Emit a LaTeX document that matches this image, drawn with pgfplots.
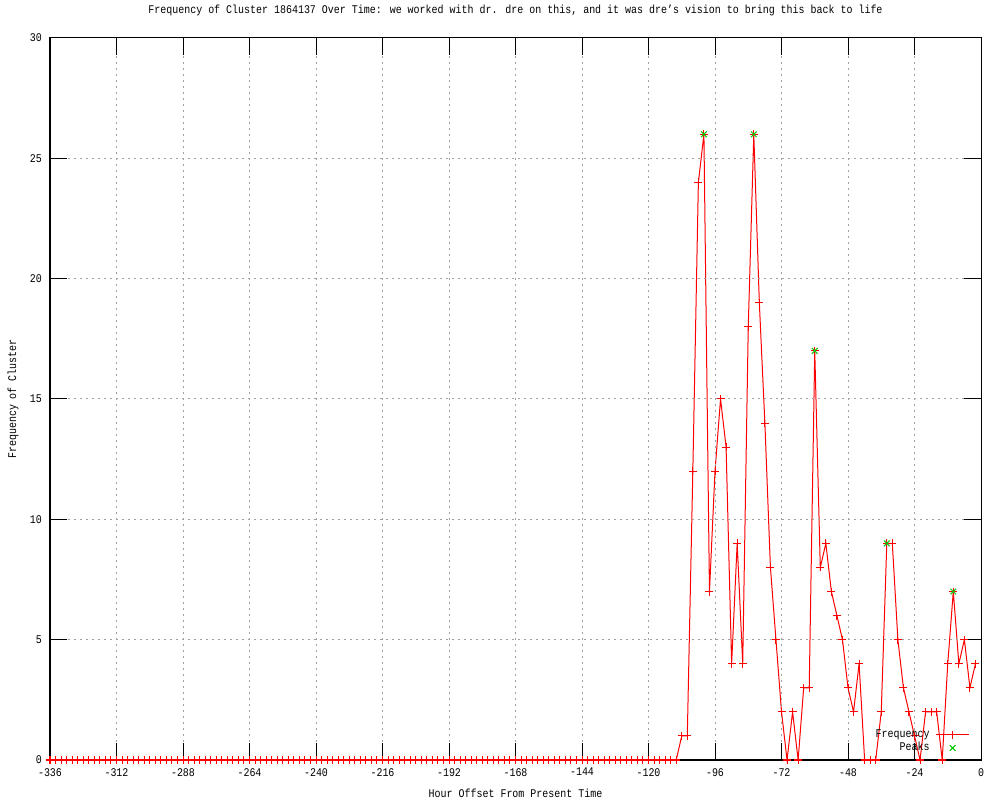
\documentclass[border=0pt]{standalone}
\usepackage{pgfplots}
\usepackage{pgfplotstable}
\usepackage{fontspec}
\setmainfont[FakeStretch=0.85]{Liberation Mono}
\pgfplotsset{compat=1.18}
\definecolor{gpred}{RGB}{255,0,0}
\definecolor{gpgreen}{RGB}{0,200,0}
\definecolor{gpgrid}{RGB}{160,160,160}
\pgfplotstableread[row sep=\\]{h f\\
-336 0\\ -334 0\\ -332 0\\ -330 0\\ -328 0\\ -326 0\\ -324 0\\ -322 0\\ -320 0\\ -318 0\\ -316 0\\ -314 0\\ -312 0\\ -310 0\\ -308 0\\ -306 0\\ -304 0\\ -302 0\\ -300 0\\ -298 0\\ -296 0\\ -294 0\\ -292 0\\ -290 0\\ -288 0\\ -286 0\\ -284 0\\ -282 0\\ -280 0\\ -278 0\\ -276 0\\ -274 0\\ -272 0\\ -270 0\\ -268 0\\ -266 0\\ -264 0\\ -262 0\\ -260 0\\ -258 0\\ -256 0\\ -254 0\\ -252 0\\ -250 0\\ -248 0\\ -246 0\\ -244 0\\ -242 0\\ -240 0\\ -238 0\\ -236 0\\ -234 0\\ -232 0\\ -230 0\\ -228 0\\ -226 0\\ -224 0\\ -222 0\\ -220 0\\ -218 0\\ -216 0\\ -214 0\\ -212 0\\ -210 0\\ -208 0\\ -206 0\\ -204 0\\ -202 0\\ -200 0\\ -198 0\\ -196 0\\ -194 0\\ -192 0\\ -190 0\\ -188 0\\ -186 0\\ -184 0\\ -182 0\\ -180 0\\ -178 0\\ -176 0\\ -174 0\\ -172 0\\ -170 0\\ -168 0\\ -166 0\\ -164 0\\ -162 0\\ -160 0\\ -158 0\\ -156 0\\ -154 0\\ -152 0\\ -150 0\\ -148 0\\ -146 0\\ -144 0\\ -142 0\\ -140 0\\ -138 0\\ -136 0\\ -134 0\\ -132 0\\ -130 0\\ -128 0\\ -126 0\\ -124 0\\ -122 0\\ -120 0\\ -118 0\\ -116 0\\ -114 0\\ -112 0\\ -110 0\\
-108 1\\ -106 1\\ -104 12\\ -102 24\\ -100 26\\ -98 7\\ -96 12\\ -94 15\\ -92 13\\ -90 4\\ -88 9\\ -86 4\\ -84 18\\ -82 26\\ -80 19\\ -78 14\\ -76 8\\ -74 5\\ -72 2\\ -70 0\\ -68 2\\ -66 0\\ -64 3\\ -62 3\\ -60 17\\ -58 8\\ -56 9\\ -54 7\\ -52 6\\ -50 5\\ -48 3\\ -46 2\\ -44 4\\ -42 0\\ -40 0\\ -38 0\\ -36 2\\ -34 9\\ -32 9\\ -30 5\\ -28 3\\ -26 2\\ -24 1\\ -22 0\\ -20 2\\ -18 2\\ -16 2\\ -14 0\\ -12 4\\ -10 7\\ -8 4\\ -6 5\\ -4 3\\ -2 4\\
}\freqtable
\pgfplotstableread[row sep=\\]{h f\\
-100 26\\ -82 26\\ -60 17\\ -34 9\\ -10 7\\
}\peaktable
\begin{document}
\fontsize{8.8}{10}\selectfont
\begin{tikzpicture}[x=1pt,y=1pt]
\begin{axis}[
  at={(37.5pt,30pt)}, anchor=south west,
  scale only axis, width=698.25pt, height=541.5pt,
  xmin=-336, xmax=0, ymin=0, ymax=30,
  xtick={-336,-312,...,0}, ytick={0,5,...,30},
  minor tick num=0,
  tick align=inside, major tick length=12.5pt,
  every tick/.style={black, line width=0.75pt},
  axis line style={black, line width=0.75pt},
  grid=major,
  major grid style={gpgrid, line width=0.75pt, dash pattern=on 1.5pt off 3pt},
  axis on top,
  clip=false,
  /pgf/number format/assume math mode=true,
  ticklabel style={font=\fontsize{8.8}{10}\selectfont},
  xticklabel style={yshift=-3pt},
  yticklabel style={xshift=-3pt},
  title={Frequency of Cluster 1864137 Over Time: we worked with dr. dre on this, and it was dre’s vision to bring this back to life},
  title style={at={(axis description cs:0.5,1.0277)}, anchor=center, font=\fontsize{8.8}{10}\selectfont},
  xlabel={Hour Offset From Present Time},
  xlabel style={at={(axis description cs:0.5,-0.0457)}, anchor=center, font=\fontsize{8.8}{10}\selectfont},
  ylabel={Frequency of Cluster},
  ylabel style={at={(axis description cs:-0.0397,0.5)}, anchor=center, font=\fontsize{8.8}{10}\selectfont},
  legend plot pos=right,
  legend cell align=right,
  legend style={draw=none, fill=none, inner sep=0pt, at={(axis description cs:0.988,0.007)}, anchor=south east,
    row sep=0pt, column sep=4pt, font=\fontsize{8.8}{9.75}\selectfont,
    nodes={inner sep=0.5pt, text height=6.5pt, text depth=2.5pt}},
]
\addplot[gpred, line width=0.75pt, mark=+, mark size=3pt, mark options={line width=0.75pt},
  legend image code/.code={\draw[mark repeat=2,mark phase=2] plot coordinates {(0pt,0pt)(12.4pt,0pt)(24.75pt,0pt)};}]
  table[x=h,y=f] {\freqtable};
\addlegendentry{Frequency}
\addplot[gpgreen, only marks, mark=x, mark size=3pt, mark options={line width=0.75pt},
  legend image code/.code={\draw plot coordinates {(12.4pt,0pt)};}]
  table[x=h,y=f] {\peaktable};
\addlegendentry{Peaks}
\end{axis}
\pgfresetboundingbox
\useasboundingbox (0,0) rectangle (750pt,600pt);
\end{tikzpicture}
\end{document}
